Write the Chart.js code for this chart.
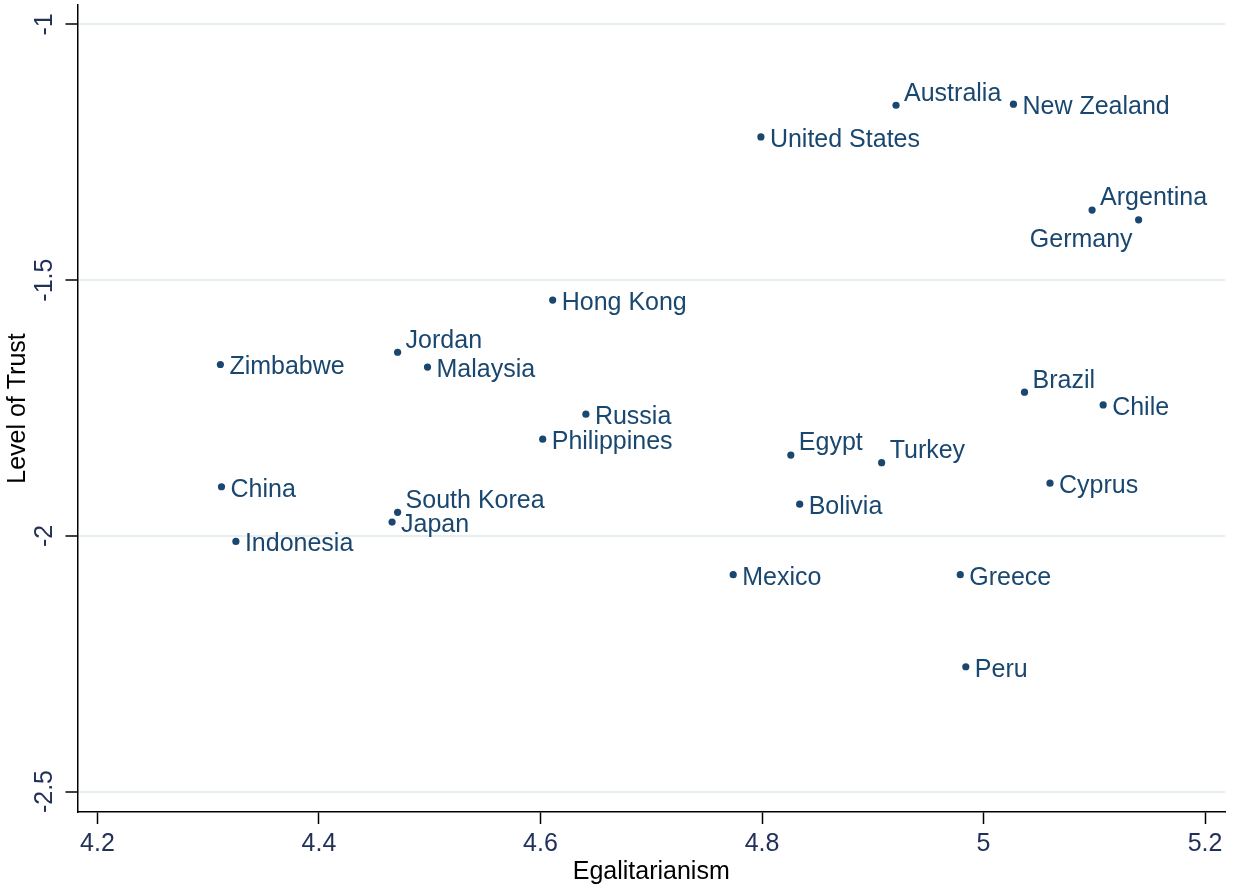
<!DOCTYPE html>
<html>
<head>
<meta charset="utf-8">
<script src="https://cdn.jsdelivr.net/npm/chart.js@4"></script>
<style>
  html, body { margin: 0; padding: 0; background: #fff; }
  #wrap { width: 1233px; height: 888px; }
</style>
</head>
<body>
<div id="wrap"><canvas id="trustChart" width="1233" height="888"></canvas></div>
<script>
const countries = ['Australia', 'New Zealand', 'United States', 'Argentina', 'Germany',
  'Hong Kong', 'Jordan', 'Zimbabwe', 'Malaysia', 'Brazil', 'Chile', 'Russia',
  'Philippines', 'Egypt', 'Turkey', 'China', 'Cyprus', 'South Korea', 'Bolivia',
  'Japan', 'Indonesia', 'Mexico', 'Greece', 'Peru'];
const egalitarianism = [4.921, 5.027, 4.799, 5.098, 5.140,
  4.611, 4.471, 4.311, 4.498, 5.037, 5.108, 4.641,
  4.602, 4.826, 4.908, 4.312, 5.060, 4.471, 4.834,
  4.466, 4.325, 4.774, 4.979, 4.984];
const trust = [-1.158, -1.156, -1.220, -1.363, -1.382,
  -1.539, -1.641, -1.665, -1.670, -1.719, -1.744, -1.762,
  -1.811, -1.842, -1.857, -1.904, -1.897, -1.954, -1.938,
  -1.973, -2.011, -2.076, -2.076, -2.256];
// clock position of each marker label (Stata style)
const labelPos = [2, 3, 3, 2, 7,
  3, 2, 3, 3, 2, 3, 3,
  3, 2, 2, 3, 3, 2, 3,
  3, 3, 3, 3, 3];

const xTicks = [4.2, 4.4, 4.6, 4.8, 5, 5.2];
const xTickLabels = ['4.2', '4.4', '4.6', '4.8', '5', '5.2'];
const yTicks = [-2.5, -2, -1.5, -1];
const yTickLabels = ['-2.5', '-2', '-1.5', '-1'];

const NAVY = '#1a476f';
const TICKTXT = '#22315a';
const FONT = "'Liberation Sans', Arial, Helvetica, sans-serif";
const FSIZE = 25;

const points = countries.map((c, i) => ({ x: egalitarianism[i], y: trust[i] }));

// y tick labels, rotated like Stata
const yLabelPlugin = {
  id: 'yLabels',
  afterDraw(chart) {
    const ctx = chart.ctx;
    const ys = chart.scales.y;
    ctx.save();
    ctx.font = FSIZE + 'px ' + FONT;
    ctx.fillStyle = TICKTXT;
    ctx.textAlign = 'center';
    ctx.textBaseline = 'middle';
    yTicks.forEach((v, i) => {
      ctx.save();
      ctx.translate(45, ys.getPixelForValue(v));
      ctx.rotate(-Math.PI / 2);
      ctx.fillText(yTickLabels[i], 0, 0);
      ctx.restore();
    });
    ctx.restore();
  }
};

// marker labels
const markerLabelPlugin = {
  id: 'markerLabels',
  afterDatasetsDraw(chart) {
    const ctx = chart.ctx;
    const meta = chart.getDatasetMeta(0);
    ctx.save();
    ctx.font = FSIZE + 'px ' + FONT;
    ctx.fillStyle = NAVY;
    ctx.textBaseline = 'middle';
    meta.data.forEach((pt, i) => {
      let dx = 9, dy = 3, align = 'left';
      if (labelPos[i] === 2) { dx = 8; dy = -11.5; }
      if (labelPos[i] === 7) { dx = -6; dy = 20; align = 'right'; }
      ctx.textAlign = align;
      ctx.fillText(countries[i], pt.x + dx, pt.y + dy);
    });
    ctx.restore();
  }
};

const config = {
  type: 'scatter',
  data: {
    datasets: [{
      data: points,
      backgroundColor: NAVY,
      borderWidth: 0,
      pointRadius: 3.6,
      pointHoverRadius: 3.6
    }]
  },
  options: {
    responsive: false,
    animation: false,
    layout: { padding: { top: 5, right: 8, bottom: 0, left: 0 } },
    plugins: { legend: { display: false }, tooltip: { enabled: false } },
    scales: {
      x: {
        type: 'linear',
        min: 4.182,
        max: 5.218,
        afterFit: (s) => { s.height = 76; },
        afterBuildTicks: (s) => { s.ticks = xTicks.map(v => ({ value: v })); },
        ticks: {
          color: TICKTXT,
          font: { family: FONT, size: FSIZE },
          padding: 5,
          maxRotation: 0,
          callback: (v, i) => xTickLabels[i]
        },
        grid: {
          drawOnChartArea: false,
          drawTicks: true,
          tickLength: 12,
          tickColor: '#000',
          tickWidth: 1.5
        },
        border: { display: true, color: '#000', width: 1.5 },
        title: {
          display: true,
          text: 'Egalitarianism',
          color: '#000',
          font: { family: FONT, size: FSIZE },
          padding: { top: 0, bottom: 1 }
        }
      },
      y: {
        type: 'linear',
        min: -2.54,
        max: -0.962,
        afterFit: (s) => { s.width = 77.5; },
        afterBuildTicks: (s) => { s.ticks = yTicks.map(v => ({ value: v })); },
        ticks: { display: false },
        grid: {
          color: '#e6eef0',
          lineWidth: 2,
          drawTicks: true,
          tickLength: 12,
          tickColor: '#000',
          tickWidth: 1.5
        },
        border: { display: true, color: '#000', width: 1.5 },
        title: {
          display: true,
          text: 'Level of Trust',
          color: '#000',
          font: { family: FONT, size: FSIZE },
          padding: { top: 3, bottom: 0 }
        }
      }
    }
  },
  plugins: [yLabelPlugin, markerLabelPlugin]
};

const ctx = document.getElementById('trustChart').getContext('2d');
new Chart(ctx, config);
</script>
</body>
</html>
